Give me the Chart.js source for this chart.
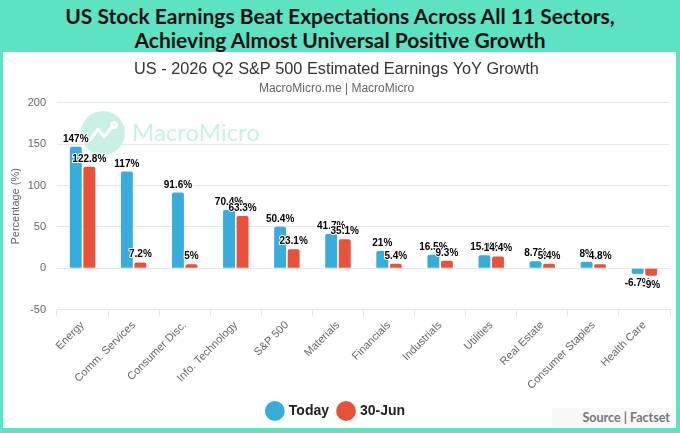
<!DOCTYPE html>
<html>
<head>
<meta charset="utf-8">
<script src="https://cdn.jsdelivr.net/npm/chart.js@4.4.1/dist/chart.umd.min.js"></script>
<style>
  html, body { margin: 0; padding: 0; }
  body { width: 680px; height: 433px; background: #5de2c4; position: relative; overflow: hidden; font-family: Lato, "Liberation Sans", sans-serif; }
  #hdr { position: absolute; left: 0; top: 4px; width: 680px; text-align: center; font-family: Lato, sans-serif; font-weight: 700; font-size: 21px; line-height: 24px; color: #111; }
  #panel { position: absolute; left: 3px; top: 52px; width: 673px; height: 376px; background: #fff; }
  #wrap { position: absolute; left: 0; top: 0; width: 673px; height: 376px; }
  #src { position: absolute; right: 0; bottom: 0; width: 124px; height: 20px; background: #f8f8f8; text-align: right; font-family: Lato, sans-serif; font-weight: 700; font-size: 12.5px; line-height: 20px; color: #777; padding-right: 6px; box-sizing: border-box; }
</style>
</head>
<body>
<div id="hdr">US Stock Earnings Beat Expectations Across All 11 Sectors,<br>Achieving Almost Universal Positive Growth</div>
<div id="panel">
  <div id="src">Source | Factset</div>
  <div id="wrap"><canvas id="c"></canvas></div>
</div>
<script>
const categories = ["Energy", "Comm. Services", "Consumer Disc.", "Info. Technology", "S&P 500", "Materials", "Financials", "Industrials", "Utilities", "Real Estate", "Consumer Staples", "Health Care"];
const todayValues = [147, 117, 91.6, 70.4, 50.4, 41.7, 21, 16.5, 15.9, 8.7, 8, -6.7];
const june30Values = [122.8, 7.2, 5, 63.3, 23.1, 35.1, 5.4, 9.3, 14.4, 5.4, 4.8, -9];
const seriesNames = ["Today", "30-Jun"];
const yTicks = [-50, 0, 50, 100, 150, 200];

const watermark = {
  id: 'watermark',
  beforeDatasetsDraw(chart) {
    const ctx = chart.ctx;
    ctx.save();
    ctx.fillStyle = '#c8f0e6';
    ctx.beginPath();
    ctx.arc(100, 81, 22, 0, Math.PI * 2);
    ctx.fill();
    ctx.strokeStyle = '#ffffff';
    ctx.lineWidth = 3;
    ctx.lineJoin = 'round';
    ctx.lineCap = 'round';
    ctx.beginPath();
    ctx.moveTo(87, 88); ctx.lineTo(95, 77); ctx.lineTo(101, 85); ctx.lineTo(108, 76);
    ctx.stroke();
    ctx.beginPath();
    ctx.arc(111, 73, 2.5, 0, Math.PI * 2);
    ctx.stroke();
    ctx.font = '24px Lato';
    ctx.fillStyle = '#c8f0e6';
    ctx.textBaseline = 'middle';
    ctx.fillText('MacroMicro', 129, 81);
    ctx.restore();
  }
};

const valueLabels = {
  id: 'valueLabels',
  afterDatasetsDraw(chart) {
    const ctx = chart.ctx;
    ctx.save();
    ctx.font = 'bold 10px "Liberation Sans", Arial, sans-serif';
    ctx.textAlign = 'center';
    ctx.textBaseline = 'alphabetic';
    ctx.lineJoin = 'round';
    chart.data.datasets.forEach((ds, di) => {
      const meta = chart.getDatasetMeta(di);
      meta.data.forEach((el, i) => {
        const v = ds.data[i];
        const txt = v + '%';
        const y = v >= 0 ? el.y - 5 : el.y + 12;
        ctx.strokeStyle = '#ffffff';
        ctx.lineWidth = 2;
        ctx.strokeText(txt, el.x, y);
        ctx.fillStyle = '#000000';
        ctx.fillText(txt, el.x, y);
      });
    });
    ctx.restore();
  }
};

new Chart(document.getElementById('c'), {
  type: 'bar',
  data: {
    labels: categories,
    datasets: [
      { label: seriesNames[0], data: todayValues, backgroundColor: '#38acdb', borderRadius: 2, borderSkipped: 'start', categoryPercentage: 0.53, barPercentage: 0.88 },
      { label: seriesNames[1], data: june30Values, backgroundColor: '#e8523b', borderRadius: 2, borderSkipped: 'start', categoryPercentage: 0.53, barPercentage: 0.88 }
    ]
  },
  options: {
    responsive: true,
    maintainAspectRatio: false,
    animation: false,
    layout: { padding: { left: 0, right: 6, top: 0, bottom: 0 } },
    plugins: {
      title: { display: true, text: 'US - 2026 Q2 S&P 500 Estimated Earnings YoY Growth', color: '#333333', font: { family: '"Liberation Sans", Arial, sans-serif', size: 16.3, weight: 'normal' }, padding: { top: 8, bottom: 2 } },
      subtitle: { display: true, text: 'MacroMicro.me | MacroMicro', color: '#666666', font: { family: '"Liberation Sans", Arial, sans-serif', size: 12, weight: 'normal' }, padding: { top: 0, bottom: 7 } },
      legend: {
        position: 'bottom',
        labels: { usePointStyle: true, pointStyle: 'circle', boxWidth: 14, boxHeight: 14, color: '#222222', font: { family: '"Liberation Sans", Arial, sans-serif', size: 14, weight: 'bold' }, padding: 10 }
      },
      tooltip: { enabled: false }
    },
    scales: {
      x: {
        grid: { display: true, drawOnChartArea: false, tickLength: 7, color: '#e6e6e6' },
        border: { display: true, color: '#e6e6e6' },
        ticks: { color: '#666666', font: { family: '"Liberation Sans", Arial, sans-serif', size: 11 }, minRotation: 45, maxRotation: 45, padding: 2, autoSkip: false }
      },
      y: {
        min: yTicks[0], max: yTicks[yTicks.length - 1],
        afterBuildTicks(scale) { scale.ticks = yTicks.map(v => ({ value: v })); },
        afterFit(scale) { scale.width = 54; },
        grid: { color: '#e6e6e6', drawTicks: false },
        border: { display: false },
        ticks: { color: '#666666', font: { family: '"Liberation Sans", Arial, sans-serif', size: 11 }, padding: 11 },
        title: { display: true, text: 'Percentage (%)', color: '#666666', font: { family: '"Liberation Sans", Arial, sans-serif', size: 11 }, padding: { top: 6, bottom: 0 } }
      }
    }
  },
  plugins: [watermark, valueLabels]
});
</script>
</body>
</html>
